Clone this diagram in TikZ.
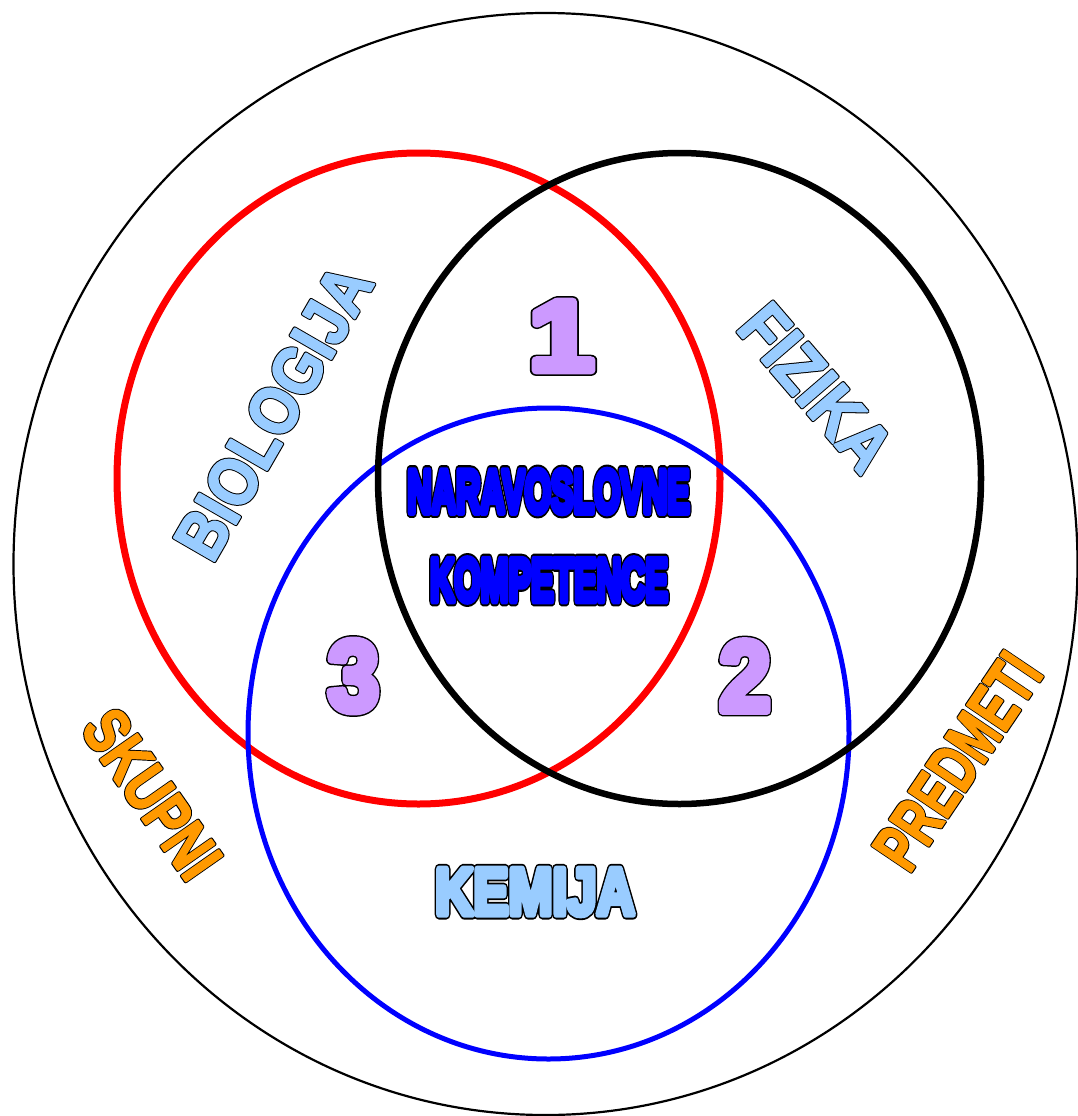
\documentclass[tikz,border=0pt]{standalone}
\usepackage{fontspec}
\setmainfont{Liberation Sans}
\usepackage{xcolor}
\usepackage{graphicx}
\definecolor{lblue}{RGB}{153,204,255}
\definecolor{orng}{RGB}{255,153,0}
\definecolor{purp}{RGB}{204,153,255}
\definecolor{tblue}{RGB}{0,0,255}
% outlined text: black emboldened layer (#3) under a coloured emboldened layer (#2)
\newcommand\outtext[4]{%
  \rlap{\addfontfeatures{FakeBold=#3}\color{black}\special{pdf:literal direct 1 j}#4}%
  {\addfontfeatures{FakeBold=#2}\color{#1}\special{pdf:literal direct 1 j}#4}}
\tikzset{
  lbl/.style={inner sep=0pt, outer sep=0pt, font=\bfseries},
}
\begin{document}
\begin{tikzpicture}[x=1pt,y=-1pt,line join=round]
\useasboundingbox[fill=white] (0,0) rectangle (1077,1116);
% outer circle
\draw[line width=2.2pt] (545.5,564) ellipse [x radius=532, y radius=551];
% subject circles
\draw[red, line width=7pt] (418.5,478.5) ellipse [x radius=301.5, y radius=325.5];
\draw[tblue, line width=5pt] (548.5,733.5) ellipse [x radius=300.5, y radius=325.5];
\draw[black, line width=6.5pt] (679.5,478.5) ellipse [x radius=301.5, y radius=325.5];
% central text
\node[lbl] (nar) at (548.5,491.5) {\fontsize{60}{60}\selectfont\scalebox{0.562}[1]{\outtext{tblue}{12}{19}{NARAVOSLOVNE}}};
\node[lbl] (komp) at (549,580) {\fontsize{60}{60}\selectfont\scalebox{0.562}[1]{\outtext{tblue}{12}{19}{KOMPETENCE}}};
% kemija
\node[lbl] (kem) at (535,892) {\fontsize{66}{66}\selectfont\scalebox{0.8}[1]{\outtext{lblue}{10}{15.5}{KEMIJA}}};
% numbers
\node[lbl] (n1) at (561.5,336) {\fontsize{100}{100}\selectfont\scalebox{1.17}[1]{\outtext{purp}{8}{11}{1}}};
\node[lbl] (n3) at (353.5,676) {\fontsize{100}{100}\selectfont\scalebox{0.92}[1]{\outtext{purp}{8}{11}{3}}};
\node[lbl] (n2) at (745,676) {\fontsize{100}{100}\selectfont\scalebox{0.92}[1]{\outtext{purp}{8}{11}{2}}};
% rotated labels
\node[lbl, rotate=60] (bio) at (273.5,412) {\fontsize{68}{68}\selectfont\scalebox{0.87}[1]{\outtext{lblue}{3}{6.2}{BIOLOGIJA}}};
\node[lbl, rotate=-49.3] (fiz) at (816,387.5) {\fontsize{68}{68}\selectfont\scalebox{0.89}[1]{\outtext{lblue}{3}{6.2}{FIZIKA}}};
\node[lbl, rotate=-55] (sku) at (152,794) {\fontsize{65}{65}\selectfont\scalebox{0.77}[1]{\outtext{orng}{3}{6.4}{SKUPNI}}};
\node[lbl, rotate=56] (pred) at (957.5,761) {\fontsize{68}{68}\selectfont\scalebox{0.69}[1]{\outtext{orng}{3}{6.2}{PREDMETI}}};
\end{tikzpicture}
\end{document}
